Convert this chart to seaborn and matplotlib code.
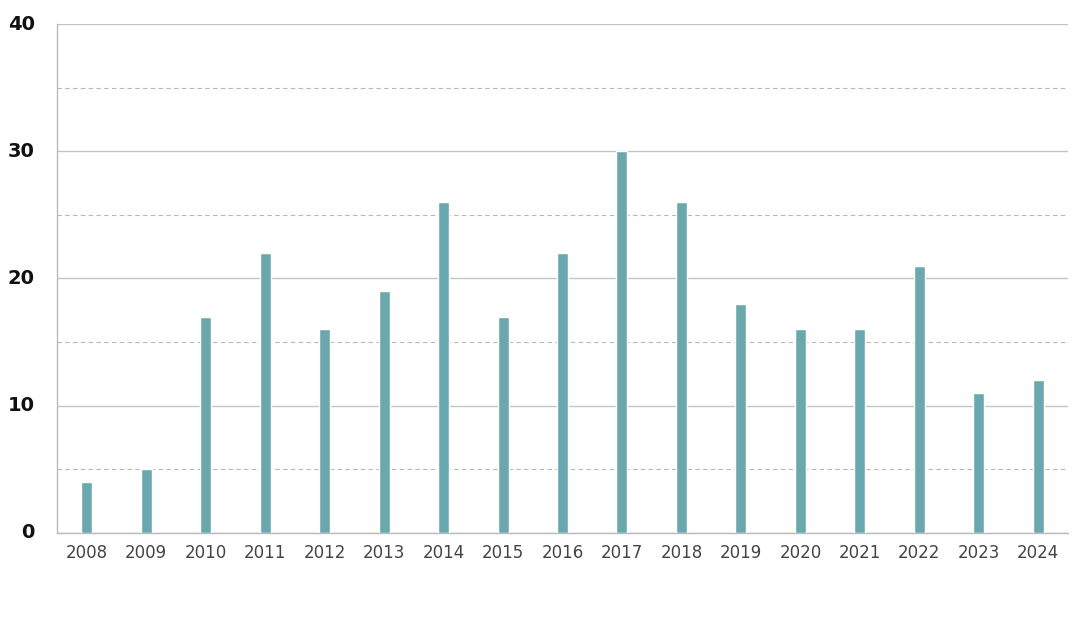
import matplotlib
matplotlib.use("Agg")
import matplotlib.pyplot as plt
import seaborn as sns
import pandas as pd
from matplotlib.ticker import MultipleLocator

years = [str(y) for y in range(2008, 2025)]
counts = [4, 5, 17, 22, 16, 19, 26, 17, 22, 30, 26, 18, 16, 16, 21, 11, 12]

df = pd.DataFrame({"year": years, "count": counts})

sns.set_style("white")
plt.rcParams['font.family'] = ['DejaVu Sans']

fig = plt.figure(figsize=(10.8, 6.44), dpi=100)
ax = fig.add_axes([0.0528, 0.1724, 0.9361, 0.7903])

sns.barplot(data=df, x="year", y="count", color="#6aa8ad", saturation=1,
            width=0.185, ax=ax, zorder=3)

ax.set_ylim(0, 40)
ax.set_xlim(-0.5, 16.5)
ax.yaxis.set_major_locator(MultipleLocator(10))
ax.yaxis.set_minor_locator(MultipleLocator(5))
ax.grid(axis="y", which="major", color="#c4c4c4", linewidth=1, linestyle="-", zorder=0)
ax.grid(axis="y", which="minor", color="#b8b8b8", linewidth=0.8, linestyle=(0, (4, 3)), zorder=0)
ax.set_axisbelow(True)

for s in ["top", "right"]:
    ax.spines[s].set_visible(False)
for s in ["left", "bottom"]:
    ax.spines[s].set_color("#bbbbbb")
    ax.spines[s].set_linewidth(1)

ax.set_xlabel("")
ax.set_ylabel("")
ax.tick_params(axis="both", which="both", length=0)
ax.tick_params(axis="x", labelsize=12, labelcolor="#444444", pad=8)
ax.tick_params(axis="y", labelsize=14, labelcolor="#111111", pad=16)
for lab in ax.get_yticklabels():
    lab.set_fontweight("bold")
    lab.set_verticalalignment("center")
    lab.set_y(lab.get_position()[1])

fig.savefig("out.png", dpi=100)
